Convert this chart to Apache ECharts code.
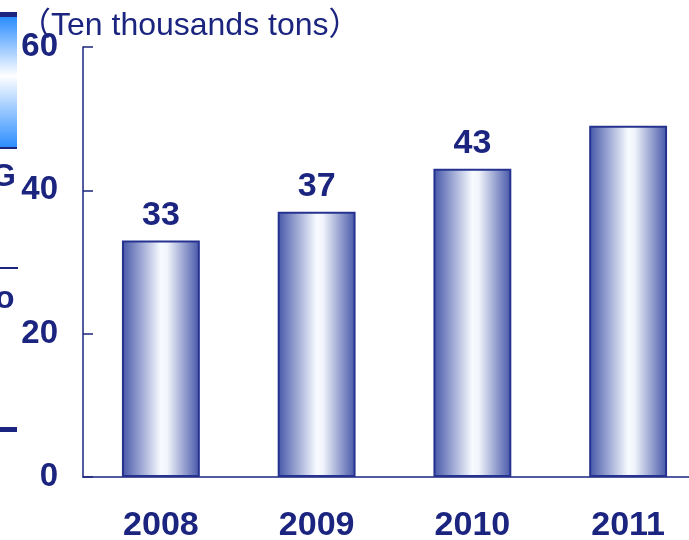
<!DOCTYPE html>
<html>
<head>
<meta charset="utf-8">
<script src="https://cdn.jsdelivr.net/npm/echarts@6/dist/echarts.min.js"></script>
<style>
html,body{margin:0;padding:0;background:#fff;overflow:hidden;}
#c{width:706px;height:540px;}
</style>
</head>
<body>
<div id="c"></div>
<script>
const categories = ['2008', '2009', '2010', '2011'];
const values = [33, 37, 43, 49];
const showLabel = [true, true, true, false];
const yTicks = { min: 0, max: 60, interval: 20 };
const unitText = '（Ten thousands tons）';

const navy = '#1b247f';
const chart = echarts.init(document.getElementById('c'), null, { renderer: 'canvas' });

const barGradient = new echarts.graphic.LinearGradient(0, 0, 1, 0, [
  { offset: 0, color: '#4555a8' },
  { offset: 0.5, color: '#f7fbff' },
  { offset: 0.58, color: '#f1f5fb' },
  { offset: 1, color: '#4555a8' }
]);

chart.setOption({
  animation: false,
  backgroundColor: '#ffffff',
  grid: { left: 83, right: 0, top: 47, bottom: 63, containLabel: false, outerBoundsMode: 'none' },
  xAxis: {
    type: 'category',
    data: categories,
    boundaryGap: true,
    axisLine: { lineStyle: { color: navy, width: 1.5 } },
    axisTick: { inside: true, length: 9, lineStyle: { color: navy, width: 1.5 } },
    axisLabel: {
      color: navy, fontSize: 34, fontWeight: 'bold',
      fontFamily: 'Liberation Sans, Arial, sans-serif', margin: 32
    }
  },
  yAxis: {
    type: 'value',
    min: yTicks.min, max: yTicks.max, interval: yTicks.interval,
    splitLine: { show: false },
    axisLine: { show: true, lineStyle: { color: navy, width: 1.5 } },
    axisTick: { show: true, inside: true, length: 10, lineStyle: { color: navy, width: 1.5 } },
    axisLabel: {
      color: navy, fontSize: 33, fontWeight: 'bold',
      fontFamily: 'Liberation Sans, Arial, sans-serif', margin: 25
    }
  },
  series: [{
    type: 'bar',
    barWidth: '50%',
    data: values.map((v, i) => ({
      value: v,
      label: { show: showLabel[i] }
    })),
    itemStyle: {
      color: barGradient,
      borderColor: '#26328f',
      borderWidth: 2
    },
    label: {
      position: 'top',
      distance: 8,
      color: navy, fontSize: 34, fontWeight: 'bold',
      fontFamily: 'Liberation Sans, Arial, sans-serif'
    }
  }],
  graphic: [
    {
      type: 'text', left: 19, top: 10,
      style: {
        text: unitText, fill: navy, fontSize: 32,
        fontFamily: 'Liberation Sans, Noto Sans CJK SC, sans-serif'
      }
    },
    // cut-off fragments of neighbouring slide content at the left edge
    {
      type: 'rect', shape: { x: 0, y: 17, width: 17, height: 131 },
      style: {
        fill: new echarts.graphic.LinearGradient(0, 0, 0, 1, [
          { offset: 0, color: '#2a8cff' },
          { offset: 0.45, color: '#ffffff' },
          { offset: 1, color: '#2a8cff' }
        ])
      }
    },
    { type: 'rect', shape: { x: 0, y: 12, width: 17, height: 5 }, style: { fill: navy } },
    { type: 'rect', shape: { x: 0, y: 147, width: 17, height: 2 }, style: { fill: navy } },
    { type: 'rect', shape: { x: 0, y: 267, width: 18, height: 2 }, style: { fill: navy } },
    { type: 'rect', shape: { x: 0, y: 427, width: 17, height: 5 }, style: { fill: navy } },
    {
      type: 'text', x: -9, y: 161,
      style: { text: 'G', fill: navy, fontSize: 32, fontWeight: 'bold', fontFamily: 'Liberation Sans, Arial, sans-serif' }
    },
    {
      type: 'text', x: -5, y: 283,
      style: { text: 'o', fill: navy, fontSize: 32, fontWeight: 'bold', fontFamily: 'Liberation Sans, Arial, sans-serif' }
    }
  ]
});
</script>
</body>
</html>
